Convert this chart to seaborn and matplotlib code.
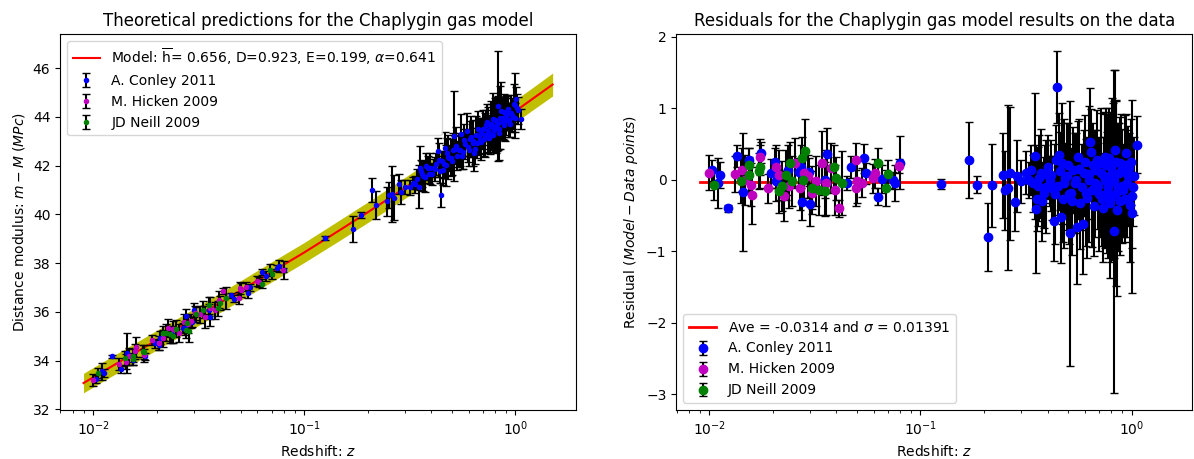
import numpy as np
import pandas as pd
import matplotlib
matplotlib.use("Agg")
import matplotlib.pyplot as plt
import seaborn as sns

# model curve (redshift, distance modulus) and half width of the shaded band
model_z = [0.009, 0.012, 0.016, 0.02, 0.03, 0.04, 0.05, 0.07, 0.1, 0.15, 0.2, 0.3,
           0.4, 0.5, 0.6, 0.7, 0.8, 0.9, 1.0, 1.2, 1.5]
model_mu = [33.08, 33.72, 34.35, 34.84, 35.73, 36.38, 36.88, 37.64, 38.44, 39.40, 40.09, 41.09,
            41.82, 42.40, 42.88, 43.29, 43.64, 43.96, 44.24, 44.73, 45.33]
band_half = [0.40, 0.40, 0.40, 0.40, 0.40, 0.40, 0.40, 0.41, 0.41, 0.42, 0.42, 0.43,
             0.43, 0.44, 0.44, 0.45, 0.45, 0.45, 0.46, 0.46, 0.47]
model_label = r"Model: $\overline{\mathrm{h}}$= 0.656, D=0.923, E=0.199, $\alpha$=0.641"

res_ave = -0.0314
res_label = r"Ave = -0.0314 and $\sigma$ = 0.01391"

# A. Conley 2011: redshift, residual (model - data), error
conley_z = [0.0103, 0.0110, 0.0112, 0.0123, 0.0135, 0.0145, 0.0155, 0.0176, 0.0196, 0.0204,
            0.0208, 0.0236, 0.0265, 0.0273, 0.0275, 0.0295, 0.0301, 0.0359, 0.0352, 0.0449,
            0.0467, 0.0541, 0.0552, 0.0632, 0.0657, 0.0744, 0.0760, 0.0800,
            0.1254, 0.1693, 0.1859, 0.2097, 0.2188, 0.2459, 0.2505, 0.2600, 0.2648, 0.2811,
            0.2860, 0.3010, 0.3256, 0.3347, 0.3485, 0.3529, 0.3560, 0.3620, 0.3712, 0.3837,
            0.3900, 0.4032, 0.4100, 0.4200, 0.4293, 0.4383, 0.4438, 0.4480, 0.4532, 0.4632,
            0.4700, 0.4750, 0.4850, 0.4959, 0.5050, 0.5132, 0.5180, 0.5286, 0.5390, 0.5508,
            0.5600, 0.5700, 0.5867, 0.5950, 0.6080, 0.6264, 0.6389, 0.6450, 0.6520, 0.6654,
            0.6780, 0.6900, 0.7131, 0.7250, 0.7380, 0.7487, 0.7620, 0.7861, 0.7950, 0.8100,
            0.8185, 0.8249, 0.8352, 0.8450, 0.8520, 0.8703, 0.8850, 0.9000, 0.9259, 0.9452,
            0.9600, 0.9750, 1.0000, 1.0085, 1.0300, 1.0664,
            0.3150, 0.3400, 0.3650, 0.3780, 0.3950, 0.4150, 0.4350, 0.4580, 0.4800, 0.5000,
            0.5230, 0.5450, 0.5650, 0.5800, 0.6000, 0.6150, 0.6300, 0.6600, 0.6700, 0.6850,
            0.7000, 0.7200, 0.7300, 0.7450, 0.7550, 0.7700, 0.7800, 0.8000, 0.8050, 0.8300,
            0.8400, 0.8600, 0.8800, 0.8950, 0.9100, 0.9350, 0.9500, 0.9850, 0.9950, 1.0150]
conley_r = [0.13, -0.04, 0.07, -0.40, 0.33, -0.17, 0.27, 0.38, 0.09, 0.25,
            -0.02, 0.13, 0.11, 0.18, -0.31, 0.11, -0.34, 0.36, 0.00, -0.05,
            0.18, 0.30, 0.09, -0.24, 0.01, -0.01, -0.05, 0.24,
            -0.06, 0.28, -0.07, -0.80, -0.08, 0.06, -0.15, -0.11, 0.09, -0.31,
            0.05, -0.02, 0.00, 0.14, 0.33, -0.41, -0.27, -0.09, 0.09, -0.18,
            0.08, 0.18, -0.02, -0.12, -0.58, 0.27, 1.30, -0.09, 0.34, -0.52,
            0.23, -0.27, 0.02, 0.05, -0.20, -0.75, -0.18, 0.14, -0.05, -0.66,
            0.32, -0.32, -0.62, 0.09, -0.18, 0.00, 0.53, 0.39, -0.14, -0.37,
            0.14, -0.09, 0.23, -0.27, 0.05, 0.32, -0.18, -0.32, 0.18, 0.05,
            -0.02, -0.72, 0.41, -0.18, -0.43, 0.09, 0.23, -0.09, -0.27, 0.37,
            0.05, 0.16, -0.23, -0.46, 0.05, 0.49,
            0.10, -0.05, 0.02, -0.30, -0.10, 0.06, -0.20, 0.12, -0.05, 0.20,
            -0.30, 0.00, 0.15, -0.10, 0.25, -0.25, 0.08, 0.20, -0.05, 0.28,
            -0.20, 0.10, -0.40, 0.00, 0.20, -0.10, 0.30, -0.25, 0.10, 0.00,
            0.25, -0.10, -0.30, 0.12, -0.15, 0.20, -0.05, -0.35, 0.25, -0.10]
conley_err = [0.15, 0.35, 0.18, 0.05, 0.15, 0.83, 0.18, 0.15, 0.20, 0.20,
              0.28, 0.35, 0.20, 0.30, 0.25, 0.20, 0.30, 0.36, 0.25, 0.10,
              0.15, 0.20, 0.15, 0.12, 0.20, 0.12, 0.25, 0.37,
              0.07, 0.53, 0.12, 0.48, 0.58, 0.60, 0.55, 1.15, 0.93, 0.40,
              0.50, 0.30, 0.25, 0.35, 0.88, 0.90, 0.45, 0.55, 0.62, 0.50,
              0.40, 0.45, 0.35, 0.45, 0.55, 0.50, 0.50, 0.40, 0.60, 0.65,
              0.85, 0.60, 0.50, 0.75, 0.70, 1.85, 0.55, 0.60, 0.70, 0.80,
              0.50, 0.65, 0.70, 0.60, 0.75, 0.55, 0.75, 0.60, 0.80, 0.70,
              0.55, 0.60, 0.70, 0.65, 0.55, 0.60, 0.85, 1.05, 0.75, 0.90,
              1.10, 2.26, 1.12, 1.30, 1.20, 0.70, 0.65, 0.80, 0.60, 0.55,
              0.70, 0.50, 1.35, 0.50, 0.55, 0.40,
              0.30, 0.40, 0.60, 0.55, 0.65, 0.50, 0.70, 0.55, 0.90, 0.60,
              0.75, 0.65, 0.70, 0.60, 0.65, 0.85, 0.95, 0.60, 0.75, 0.70,
              0.80, 0.90, 0.75, 0.95, 0.80, 1.00, 0.70, 0.90, 1.05, 1.10,
              0.85, 0.90, 0.75, 0.80, 0.65, 0.70, 0.75, 0.80, 0.60, 0.55]

# M. Hicken 2009
hicken_z = [0.0100, 0.0133, 0.0143, 0.0148, 0.0157, 0.0159, 0.0174, 0.0189, 0.0206, 0.0213,
            0.0226, 0.0238, 0.0254, 0.0268, 0.0280, 0.0292, 0.0305, 0.0320, 0.0340, 0.0358,
            0.0376, 0.0395, 0.0413, 0.0493, 0.0500, 0.0497, 0.0527, 0.0596, 0.0610, 0.0790]
hicken_r = [0.10, 0.08, 0.14, 0.00, -0.07, -0.22, 0.32, -0.12, 0.18, 0.07,
            -0.23, -0.09, 0.23, -0.12, 0.09, 0.05, -0.18, -0.02, 0.23, -0.04,
            0.17, -0.14, -0.40, 0.27, -0.02, -0.12, -0.04, 0.02, 0.09, 0.19]
hicken_err = [0.25, 0.25, 0.30, 0.35, 0.30, 0.40, 0.25, 0.20, 0.30, 0.35,
              0.35, 0.30, 0.35, 0.30, 0.35, 0.30, 0.30, 0.35, 0.45, 0.45,
              0.35, 0.35, 0.12, 0.25, 0.30, 0.25, 0.20, 0.20, 0.20, 0.10]

# JD Neill 2009
neill_z = [0.0105, 0.0142, 0.0154, 0.0155, 0.0172, 0.0174, 0.0213, 0.0221, 0.0231, 0.0240,
           0.0246, 0.0276, 0.0285, 0.0278, 0.0308, 0.0330, 0.0355, 0.0390, 0.0400, 0.0425,
           0.0630, 0.0690, 0.0700]
neill_r = [-0.08, -0.02, 0.20, 0.07, 0.12, 0.18, -0.16, -0.09, 0.07, 0.23,
           -0.02, 0.30, 0.40, 0.00, -0.11, -0.15, -0.16, 0.18, 0.02, -0.05,
           0.24, -0.12, 0.08]
neill_err = [0.20, 0.30, 0.25, 0.25, 0.25, 0.30, 0.30, 0.35, 0.35, 0.30,
             0.35, 0.30, 0.45, 0.30, 0.30, 0.35, 0.35, 0.30, 0.30, 0.45,
             0.20, 0.25, 0.20]

datasets = [
    ("A. Conley 2011", conley_z, conley_r, conley_err, "b"),
    ("M. Hicken 2009", hicken_z, hicken_r, hicken_err, "m"),
    ("JD Neill 2009", neill_z, neill_r, neill_err, "g"),
]

model_df = pd.DataFrame({"z": model_z, "mu": model_mu, "half": band_half})


def model_at(z):
    return np.interp(np.log10(z), np.log10(model_df["z"]), model_df["mu"])


fig, (ax1, ax2) = plt.subplots(1, 2, figsize=(11.94, 4.59), dpi=100)
fig.subplots_adjust(left=0.0503, right=0.9985, bottom=0.107, top=0.926, wspace=0.194)

# left: distance modulus
ax1.set_xscale("log")
ax1.fill_between(model_df["z"], model_df["mu"] - model_df["half"],
                 model_df["mu"] + model_df["half"], color="y", linewidth=0)
sns.lineplot(data=model_df, x="z", y="mu", color="r", linewidth=1.5,
             estimator=None, sort=False, label=model_label, ax=ax1)
for name, z, r, err, col in datasets:
    z = np.asarray(z)
    mu = model_at(z) - np.asarray(r)
    ax1.errorbar(z, mu, yerr=err, fmt=col + ".", ecolor="k", capsize=3, label=name)
ax1.legend(loc="upper left")
ax1.set_xlabel("Redshift: $z$")
ax1.set_ylabel("Distance modulus: $m-M$ $(MPc)$")
ax1.set_title("Theoretical predictions for the Chaplygin gas model")

# right: residuals
ax2.set_xscale("log")
ave_df = pd.DataFrame({"z": [model_z[0], model_z[-1]], "r": [res_ave, res_ave]})
sns.lineplot(data=ave_df, x="z", y="r", color="r", linewidth=2,
             estimator=None, sort=False, label=res_label, ax=ax2)
for name, z, r, err, col in datasets:
    ax2.errorbar(z, r, yerr=err, fmt=col + "o", ecolor="k", capsize=3, label=name)
ax2.legend(loc="lower left")
ax2.set_xlabel("Redshift: $z$")
ax2.set_ylabel("Residual $(Model-Data\\ points)$")
ax2.set_title("Residuals for the Chaplygin gas model results on the data")

fig.savefig("out.png", dpi=100)
